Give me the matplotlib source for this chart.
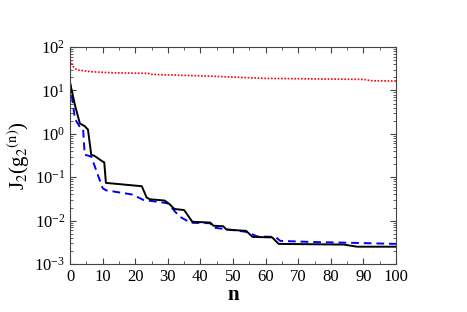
import matplotlib
matplotlib.use('Agg')
import matplotlib.pyplot as plt
from matplotlib.ticker import LogLocator, MultipleLocator, NullFormatter

plt.rcParams['font.family'] = ['Liberation Serif', 'DejaVu Serif']
plt.rcParams['mathtext.fontset'] = 'stix'

# black solid curve (breakpoints)
black_n = [0, 1.5, 3, 4.5, 5.5, 6.5, 7.5, 10, 10.5, 11, 22, 23.5, 24.5, 29, 30.5,
           32, 35, 37.5, 43, 44, 47, 48, 54, 56, 62, 64, 84, 88, 100]
black_v = [15, 4.6, 1.75, 1.5, 1.25, 0.33, 0.31, 0.23, 0.22, 0.074, 0.062, 0.034,
           0.031, 0.029, 0.024, 0.0185, 0.0175, 0.0094, 0.0090, 0.0076, 0.0074,
           0.0062, 0.0058, 0.0042, 0.0041, 0.0029, 0.0028, 0.0025, 0.0025]

# blue dashed curve
blue_n = [0, 0.5, 1.5, 3, 4, 4.5, 6.5, 10, 11, 19, 22.5, 28.5, 30, 33.5, 37, 43,
          44, 54, 57.5, 63, 64.5, 75, 84, 100]
blue_v = [15, 8, 2.2, 1.45, 1.3, 0.33, 0.30, 0.056, 0.050, 0.040, 0.030, 0.026,
          0.025, 0.0125, 0.0089, 0.0087, 0.0069, 0.0055, 0.0043, 0.0042, 0.0034,
          0.0032, 0.0031, 0.0029]

# red dotted curve
red_n = [0, 1, 2, 6.5, 13, 24, 25, 43, 60, 90, 92.5, 100]
red_v = [50, 35, 30, 27, 25.6, 24.8, 23.5, 21.4, 19, 18, 16.8, 16.5]

x_ticks = list(range(0, 101, 10))

fig = plt.figure(figsize=(4.67, 3.12), dpi=100)
ax = fig.add_axes([0.150, 0.154, 0.698, 0.695])

ax.plot(red_n, red_v, color='red', linestyle=(0, (1, 1)), linewidth=1.2)
ax.plot(blue_n, blue_v, color='blue', linestyle=(0, (4, 2.5)), linewidth=1.4)
ax.plot(black_n, black_v, color='black', linestyle='-', linewidth=1.4)

ax.set_yscale('log')
ax.set_xlim(0, 100)
ax.set_ylim(1e-3, 1e2)
ax.set_xticks(x_ticks)
ax.xaxis.set_minor_locator(MultipleLocator(5))
ax.yaxis.set_major_locator(LogLocator(base=10, numticks=10))
ax.yaxis.set_minor_locator(LogLocator(base=10, subs=range(2, 10), numticks=20))
ax.yaxis.set_minor_formatter(NullFormatter())

ax.tick_params(which='both', direction='in', top=True, right=True,
               color='#444444', labelsize=12)
ax.tick_params(which='major', length=4)
ax.tick_params(which='minor', length=2)
for s in ax.spines.values():
    s.set_color('#444444')

ax.set_xlabel('n', fontsize=15, fontweight='bold', labelpad=0)
ax.set_ylabel(r'J$_2$(g$_2$$^{(\mathrm{n})}$)', fontsize=15, labelpad=2)

fig.savefig('out.png', dpi=100)
